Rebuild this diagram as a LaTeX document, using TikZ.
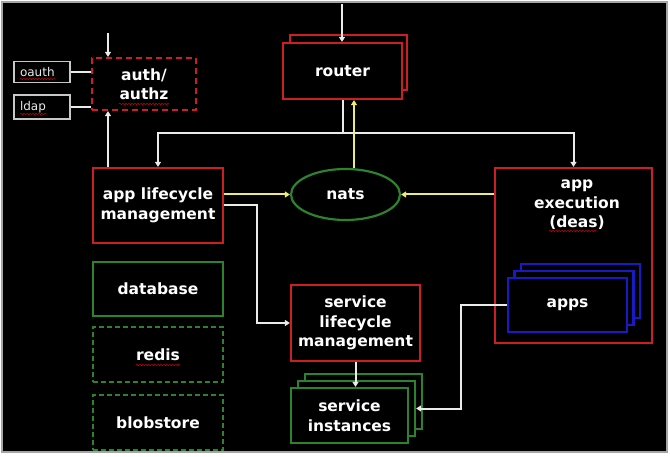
\documentclass[tikz,border=0pt]{standalone}
\usepackage{fontspec}
\setmainfont{DejaVu Sans}
\usetikzlibrary{arrows.meta,shapes.geometric,decorations.pathmorphing}
\definecolor{redline}{RGB}{205,30,35}
\definecolor{grnline}{RGB}{45,130,45}
\definecolor{bluline}{RGB}{25,25,200}
\definecolor{ylwline}{RGB}{235,235,120}
\definecolor{wireclr}{RGB}{235,235,235}
\definecolor{framegray}{RGB}{165,165,165}
\begin{document}
\begin{tikzpicture}[x=1pt,y=-1pt]
    \tikzset{% This is the style settings for nodes
    lbl/.style={text=white,font=\bfseries\fontsize{15.5}{19.5}\selectfont,align=center,inner sep=0pt},
    box/.style={rectangle,line width=2.2pt,fill=black,lbl},
    redbox/.style={box,draw=redline},
    grnbox/.style={box,draw=grnline},
    blubox/.style={box,draw=bluline},
    dash1/.style={dash pattern=on 6pt off 4pt},
    dash2/.style={dash pattern=on 5pt off 3pt},
    smallbox/.style={rectangle,draw=wireclr!85!black,line width=1.4pt,text=wireclr,
        font=\fontsize{12}{13}\selectfont,text width=44pt,align=left,inner sep=6pt,minimum height=20pt},
    wire/.style={wireclr,line width=2pt},
    ylw/.style={ylwline,line width=2pt},
    tip/.style={-{Triangle[length=5pt,width=6pt]}},
    squig/.style={red!75!black,line width=0.6pt,decorate,decoration={snake,amplitude=0.7pt,segment length=3pt}},
    }
    % Frame
    \useasboundingbox (0,0) rectangle (670,457);
    \fill[white] (0,0) rectangle (670,457);
    \draw[framegray,fill=black,line width=1.2pt] (2,2) rectangle (667,452);

    % Nodes
    \node[smallbox] (oauth) at (42,72) {oauth};
    \node[smallbox] (ldap) at (42,107) {ldap};
    \node[redbox,dash1,minimum width=104pt,minimum height=52pt] (auth) at (144,84) {auth/\\authz};

    \node[redbox,minimum width=117pt,minimum height=55pt] (routerb) at (348.5,62.5) {};
    \node[redbox,minimum width=119pt,minimum height=56pt] (router) at (342.5,71) {router};

    \node[redbox,minimum width=130pt,minimum height=75pt] (alm) at (158,205.5) {app lifecycle\\management};
    \node[ellipse,draw=grnline,line width=2.2pt,lbl,minimum width=109pt,minimum height=51pt] (nats) at (345.5,194.5) {nats};

    \node[redbox,minimum width=157pt,minimum height=175pt] (dea) at (573.5,255.5) {};
    \node[lbl] (deatxt) at (577,205) {app\\execution\\(deas)};
    \node[blubox,minimum width=119pt,minimum height=54pt] (appsb) at (580.5,291) {};
    \node[blubox,minimum width=119pt,minimum height=54pt] (appsm) at (574,298) {};
    \node[blubox,minimum width=119pt,minimum height=54pt] (apps) at (567.5,305) {apps};

    \node[grnbox,minimum width=130pt,minimum height=54pt] (db) at (158,289) {database};
    \node[grnbox,dash2,minimum width=130pt,minimum height=55pt] (redis) at (158,354.5) {redis};
    \node[grnbox,dash2,minimum width=130pt,minimum height=55pt] (blob) at (158,422.5) {blobstore};

    \node[redbox,minimum width=129pt,minimum height=76pt] (slm) at (355.5,323) {service\\lifecycle\\management};
    \node[grnbox,minimum width=117pt,minimum height=55pt] (sib) at (363.5,401.5) {};
    \node[grnbox,minimum width=117pt,minimum height=55pt] (sim) at (356.5,408.5) {};
    \node[grnbox,minimum width=117pt,minimum height=55pt] (si) at (349.5,415.5) {service\\instances};

    \coordinate (authin) at (108,33);
    \coordinate (routerin) at (342,4);
    \coordinate (bus) at (342,133);

    %Edges
    \draw[wire] (oauth.east) -- (oauth.east -| auth.west);
    \draw[wire] (ldap.east) -- (ldap.east -| auth.west);
    \draw[wire,tip] (authin) -- (authin |- auth.north);
    \draw[wire,tip] (authin |- alm.north) -- (authin |- auth.south);
    \draw[wire,tip] (routerin) -- (routerin |- router.north);
    \draw[wire] (router.south) -- (router.south |- bus);
    \draw[wire,tip] (router.south |- bus) -| (alm.north);
    \draw[wire,tip] (router.south |- bus) -| (dea.north);
    \draw[ylw,tip] ([xshift=8.5pt]nats.north) -- ([xshift=8.5pt]nats.north |- router.south);
    \draw[ylw,tip] (alm.east |- nats) -- (nats.west);
    \draw[ylw,tip] (dea.west |- nats) -- (nats.east);
    \draw[wire,tip] (alm.east) -- ++(33,0) |- (slm.west);
    \draw[wire,tip] (slm.south) -- (slm.south |- si.north);
    \draw[wire,tip] (apps.west) -- ++(-46,0) |- (sim.east);

    % spelling marks
    \draw[squig] (20,79) -- (55,79);
    \draw[squig] (20,114) -- (47,114);
    \draw[squig] (119,104) -- (169,104);
    \draw[squig] (136,365) -- (180,365);
    \draw[squig] (549,231) -- (597,231);
\end{tikzpicture}
\end{document}
